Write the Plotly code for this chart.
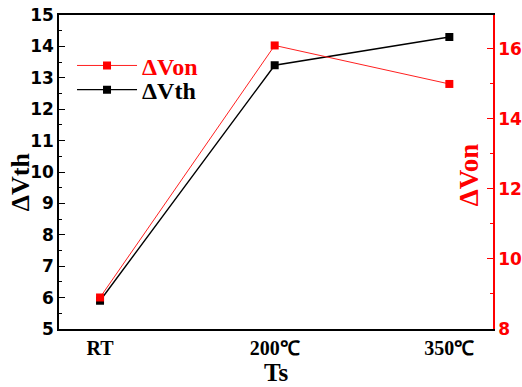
import plotly.graph_objects as go

categories = ["RT", "200℃", "350℃"]
dvth = [5.9, 13.4, 14.3]
dvon = [8.9, 16.1, 15.0]

SERIF = "Liberation Serif"
SANS = "DejaVu Sans"

fig = go.Figure()
fig.add_trace(go.Scatter(
    x=[0, 1, 2], y=dvon, name="<span style='color:#ff0000'>ΔVon</span>",
    mode="lines+markers", yaxis="y2", legend="legend",
    line=dict(color="#ff2020", width=1),
    marker=dict(symbol="square", size=8, color="#ff0000"),
))
fig.add_trace(go.Scatter(
    x=[0, 1, 2], y=dvth, name="ΔVth",
    mode="lines+markers", legend="legend2",
    line=dict(color="black", width=1.4),
    marker=dict(symbol="square", size=8, color="black"),
))

legend_common = dict(
    x=0.03, xanchor="left", yanchor="middle",
    bgcolor="rgba(0,0,0,0)",
    font=dict(family=SERIF, size=24, color="black", weight="bold"),
    itemwidth=60,
)

fig.update_layout(
    width=522, height=387,
    margin=dict(l=59, r=29, t=15, b=58, autoexpand=False),
    paper_bgcolor="white", plot_bgcolor="white",
    showlegend=True,
    legend=dict(y=0.838, **legend_common),
    legend2=dict(y=0.761, **legend_common),
    xaxis=dict(
        range=[-0.235, 2.25], tickmode="array", tickvals=[0, 1, 2], ticktext=categories,
        showgrid=False, zeroline=False, showline=True, linecolor="black", linewidth=1.5,
        mirror=True, ticks="", automargin=False, ticklabelstandoff=0,
        tickfont=dict(family=SERIF, size=20, color="black", weight="bold"),
    ),
    yaxis=dict(
        range=[5, 15], dtick=1, showgrid=False, zeroline=False,
        showline=True, linecolor="black", linewidth=1.5, automargin=False,
        ticks="inside", ticklen=6, tickcolor="black",
        minor=dict(ticks="inside", ticklen=3, dtick=0.5, tickcolor="black"),
        tickfont=dict(family=SANS, size=17, color="black", weight="bold"),
    ),
    yaxis2=dict(
        range=[8, 16.97], dtick=2, overlaying="y", side="right",
        showgrid=False, zeroline=False, automargin=False,
        showline=True, linecolor="#ff0000", linewidth=1.5,
        ticks="inside", ticklen=6, tickcolor="#ff0000",
        minor=dict(ticks="inside", ticklen=3, dtick=1, tickcolor="#ff0000"),
        tickfont=dict(family=SANS, size=17, color="#ff0000", weight="bold"),
    ),
    annotations=[
        dict(text="Ts", xref="paper", yref="paper", x=0.499, y=-0.184,
             xanchor="center", yanchor="bottom", showarrow=False, borderpad=0,
             font=dict(family=SERIF, size=25, color="black", weight="bold")),
        dict(text="ΔVth", xref="paper", yref="paper", x=-0.09, y=0.47,
             xanchor="center", yanchor="middle", showarrow=False, textangle=-90,
             font=dict(family=SERIF, size=26, color="black", weight="bold")),
        dict(text="ΔVon", xref="paper", yref="paper", x=0.945, y=0.49,
             xanchor="center", yanchor="middle", showarrow=False, textangle=-90,
             font=dict(family=SERIF, size=27, color="#ff0000", weight="bold")),
    ],
)

fig.write_html("out.html", config={"displayModeBar": False},
               post_script="document.body.style.margin='0';")
